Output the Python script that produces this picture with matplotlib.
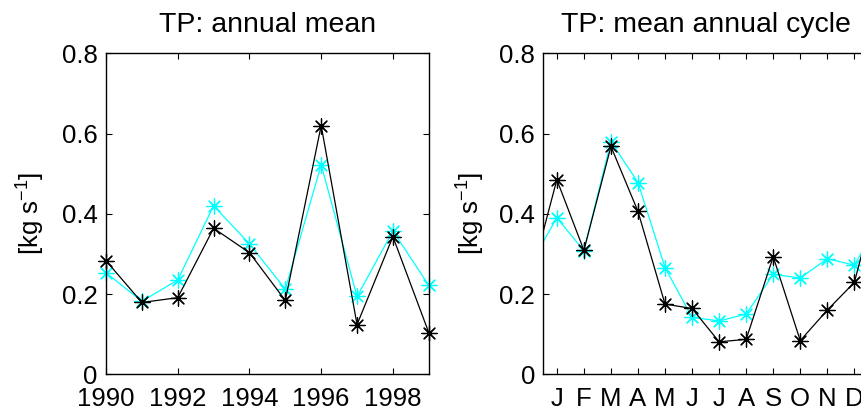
import numpy as np
import matplotlib
matplotlib.use("Agg")
import matplotlib.pyplot as plt
from matplotlib.path import Path

plt.rcParams['font.family'] = ['Liberation Sans', 'DejaVu Sans']
plt.rcParams['mathtext.fontset'] = 'custom'
plt.rcParams['mathtext.rm'] = 'Liberation Sans'
plt.rcParams['mathtext.it'] = 'Liberation Sans:italic'
plt.rcParams['mathtext.bf'] = 'Liberation Sans:bold'

# Annual means 1990-1999
years = [1990, 1991, 1992, 1993, 1994, 1995, 1996, 1997, 1998, 1999]
annual_black = [0.283, 0.179, 0.191, 0.364, 0.303, 0.184, 0.620, 0.124, 0.343, 0.104]
annual_cyan = [0.253, 0.182, 0.235, 0.420, 0.325, 0.212, 0.522, 0.194, 0.357, 0.222]

# Mean annual cycle
months = [1, 2, 3, 4, 5, 6, 7, 8, 9, 10, 11, 12]
month_labels = ['J', 'F', 'M', 'A', 'M', 'J', 'J', 'A', 'S', 'O', 'N', 'D']
cycle_black = [0.485, 0.309, 0.568, 0.406, 0.175, 0.164, 0.081, 0.087, 0.293, 0.084, 0.160, 0.229]
cycle_cyan = [0.390, 0.308, 0.580, 0.478, 0.266, 0.142, 0.133, 0.150, 0.249, 0.240, 0.288, 0.272]

yticks = [0, 0.2, 0.4, 0.6, 0.8]
ytick_labels = ['0', '0.2', '0.4', '0.6', '0.8']

# 8-armed asterisk marker
asterisk = Path.unit_regular_asterisk(8)

CYAN = '#00FFFF'
FS = 18.5

fig = plt.figure(figsize=(8.62, 4.11), dpi=100)
ax1 = fig.add_axes([0.1230, 0.0893, 0.3744, 0.7810])
ax2 = fig.add_axes([0.6303, 0.0893, 0.3765, 0.7810])


def style(ax):
    for s in ax.spines.values():
        s.set_linewidth(1.0)
    ax.tick_params(direction='in', length=4, width=0.8, top=True, right=True,
                   labelsize=FS)
    ax.tick_params(axis='y', pad=6)
    ax.tick_params(axis='x', pad=9.5)
    ax.set_ylim(0, 0.8)
    ax.set_yticks(yticks)
    ax.set_yticklabels(ytick_labels)
    ax.set_ylabel(r'[kg s$^{-1}$]', fontsize=FS)


def draw_line(ax, x, y, color):
    ax.plot(x, y, color=color, lw=0.9, clip_on=True)


def draw_marks(ax, x, y, color):
    ax.plot(x, y, ls='none', marker=asterisk, ms=11, mew=0.9,
            mec=color, color=color, clip_on=False)


# Left: annual mean
draw_line(ax1, years, annual_cyan, CYAN)
draw_marks(ax1, years, annual_cyan, CYAN)
draw_line(ax1, years, annual_black, 'black')
draw_marks(ax1, years, annual_black, 'black')
ax1.set_xlim(1990, 1999)
ax1.set_xticks([1990, 1992, 1994, 1996, 1998])
ax1.set_title('TP: annual mean', fontsize=20.5, pad=15)
style(ax1)
ax1.yaxis.set_label_coords(-0.183, 0.5)

# Right: mean annual cycle, wrapped so the line continues past Jan and Dec
mx = np.concatenate([[months[0] - 1], months, [months[-1] + 1]])
cb = np.concatenate([[cycle_black[-1]], cycle_black, [cycle_black[0]]])
cc = np.concatenate([[cycle_cyan[-1]], cycle_cyan, [cycle_cyan[0]]])
draw_line(ax2, mx, cc, CYAN)
draw_marks(ax2, months, cycle_cyan, CYAN)
draw_line(ax2, mx, cb, 'black')
draw_marks(ax2, months, cycle_black, 'black')
ax2.set_xlim(0.5, 12.5)
ax2.set_xticks(months)
ax2.set_xticklabels(month_labels)
ax2.set_title('TP: mean annual cycle', fontsize=20.5, pad=15)
style(ax2)
ax2.yaxis.set_label_coords(-0.172, 0.5)

fig.savefig('out.png', dpi=100)
